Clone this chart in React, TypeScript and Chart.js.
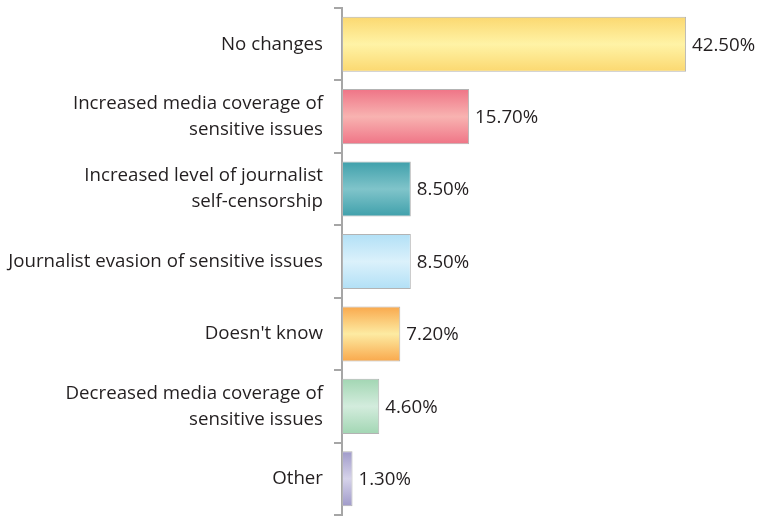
import React, { useEffect, useRef } from "react";
import { Chart, registerables } from "chart.js";

Chart.register(...registerables);

const categories: (string | string[])[] = [
  "No changes",
  ["Increased media coverage of", "sensitive issues"],
  ["Increased level of journalist", "self-censorship"],
  "Journalist evasion of sensitive issues",
  "Doesn't know",
  ["Decreased media coverage of", "sensitive issues"],
  "Other",
];
const values = [42.5, 15.7, 8.5, 8.5, 7.2, 4.6, 1.3];
const edgeColors = ["#fbd870", "#ef7486", "#3fa0ab", "#b2e0f6", "#f9a84c", "#a2d6b3", "#9f9ac9"];
const midColors = ["#fff3a6", "#f8b3b1", "#80c4ca", "#dbf1fb", "#fdeba2", "#d3ecdd", "#d6d3ea"];

const FONT = "'Open Sans', sans-serif";
const TEXT = "#231f20";
const FSIZE = 18.7;

export default function App() {
  const ref = useRef<HTMLCanvasElement>(null);
  useEffect(() => {
    if (!ref.current) return;
    const barPct = 0.76;
    const grad = (c: any, i: number) => {
      const chart = c.chart;
      const ys = chart.scales && chart.scales.y;
      if (!ys || c.type !== "data") return midColors[i];
      const yc = ys.getPixelForValue(i);
      const half = (ys.height / categories.length) * barPct / 2;
      if (!isFinite(yc) || !isFinite(half) || half <= 0) return midColors[i];
      const g = chart.ctx.createLinearGradient(0, yc - half, 0, yc + half);
      g.addColorStop(0, edgeColors[i]);
      g.addColorStop(0.5, midColors[i]);
      g.addColorStop(1, edgeColors[i]);
      return g;
    };
    const valueLabels = {
      id: "valueLabels",
      afterDatasetsDraw(chart: any) {
        const ctx = chart.ctx;
        const meta = chart.getDatasetMeta(0);
        ctx.save();
        ctx.font = `${FSIZE}px ${FONT}`;
        ctx.fillStyle = TEXT;
        ctx.textAlign = "left";
        ctx.textBaseline = "middle";
        meta.data.forEach((el: any, i: number) => {
          ctx.fillText(values[i].toFixed(2) + "%", el.x + 6, el.y + 1);
        });
        ctx.restore();
      },
    };
    const chart = new Chart(ref.current, {
      type: "bar",
      data: {
        labels: categories,
        datasets: [
          {
            data: values,
            backgroundColor: (c: any) => grad(c, c.dataIndex),
            borderColor: "#b3b3b3",
            borderWidth: 1,
            borderSkipped: false,
            barPercentage: barPct,
            categoryPercentage: 1,
          },
        ],
      },
      options: {
        indexAxis: "y",
        animation: false,
        responsive: false,
        maintainAspectRatio: false,
        layout: { padding: { top: 8, bottom: 1, right: 8, left: 0 } },
        plugins: { legend: { display: false }, tooltip: { enabled: false } },
        scales: {
          x: { display: false, min: 0, max: 52 },
          y: {
            afterFit: (s: any) => {
              s.width = 342;
              s.paddingTop = 0;
              s.paddingBottom = 0;
            },
            border: { display: true, color: "#a6a6a6", width: 2 },
            grid: {
              drawOnChartArea: false,
              drawTicks: true,
              tickLength: 8,
              color: "#a6a6a6",
              lineWidth: 2,
              offset: true,
            },
            ticks: {
              autoSkip: false,
              padding: 11,
              color: TEXT,
              font: { family: FONT, size: FSIZE, lineHeight: 1.4 },
            },
          },
        },
      },
      plugins: [valueLabels],
    } as any);
    return () => chart.destroy();
  }, []);
  return (
    <div style={{ position: "absolute", left: 0, top: 0, width: 771, height: 516, background: "#fff" }}>
      <canvas ref={ref} width={771} height={516} />
    </div>
  );
}
